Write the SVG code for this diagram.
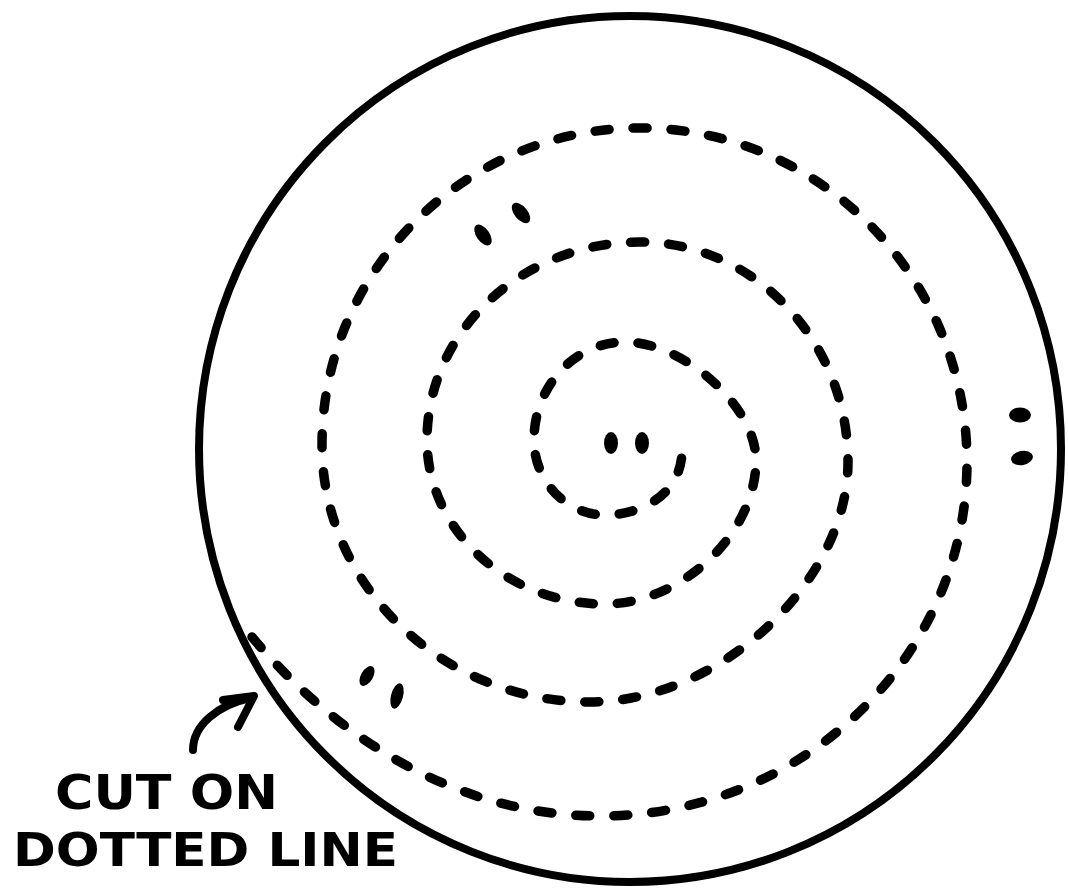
<svg xmlns="http://www.w3.org/2000/svg" width="1068" height="894" viewBox="0 0 1068 894">
<style>
.ink{fill:none;stroke:#000;stroke-linecap:round;stroke-linejoin:round}
.dot{fill:#000;stroke:none}
.lbl{font-family:"DejaVu Sans","Liberation Sans",sans-serif;font-weight:bold;fill:#000}
</style>
<rect width="1068" height="894" fill="#fff"/>
<g id="outer-circle">
<ellipse class="ink" cx="630" cy="449" rx="431" ry="433" stroke-width="8"/>
</g>
<g id="spiral">
<path class="ink" stroke-width="9.5" stroke-dasharray="14 24" d="M252,637 C330,730 450,816 600,816 C802,816 967,657 967,462 C967,278 820,128 640,128 C465,128 322,271 322,445 C322,586 443,702 590,702 C719,702 848,582 848,462 C848,341 754,242 640,242 C523,242 427,331 427,440 C427,530 507,604 605,604 C680,604 756,535 756,460 C756,407 684,342 625,342 C575,342 534,386 534,440 C534,481 566,515 605,515 C640,515 682,495 682,450"/>
</g>
<g id="marks">
<ellipse class="dot" cx="483" cy="235" rx="12" ry="6.5" transform="rotate(55 483 235)"/>
<ellipse class="dot" cx="521" cy="213" rx="12" ry="6.5" transform="rotate(50 521 213)"/>
<ellipse class="dot" cx="1020" cy="415" rx="11" ry="7.5"/>
<ellipse class="dot" cx="1022" cy="458" rx="11" ry="7" transform="rotate(-10 1022 458)"/>
<ellipse class="dot" cx="367" cy="676" rx="11" ry="6" transform="rotate(-60 367 676)"/>
<ellipse class="dot" cx="397" cy="696" rx="13" ry="6" transform="rotate(-75 397 696)"/>
<ellipse class="dot" cx="611" cy="443" rx="7" ry="11"/>
<ellipse class="dot" cx="642" cy="443" rx="7" ry="11"/>
</g>
<g id="connectors">
<path class="ink" stroke-width="8" d="M193,750 C193,725 218,705 250,698"/>
<path class="ink" stroke-width="8" d="M223,700 L254,696 L238,727"/>
</g>
<g id="label">
<text class="lbl" x="55" y="809" font-size="48" textLength="223" lengthAdjust="spacingAndGlyphs">CUT ON</text>
<text class="lbl" x="13" y="866" font-size="46" textLength="385" lengthAdjust="spacingAndGlyphs">DOTTED LINE</text>
</g>
</svg>
